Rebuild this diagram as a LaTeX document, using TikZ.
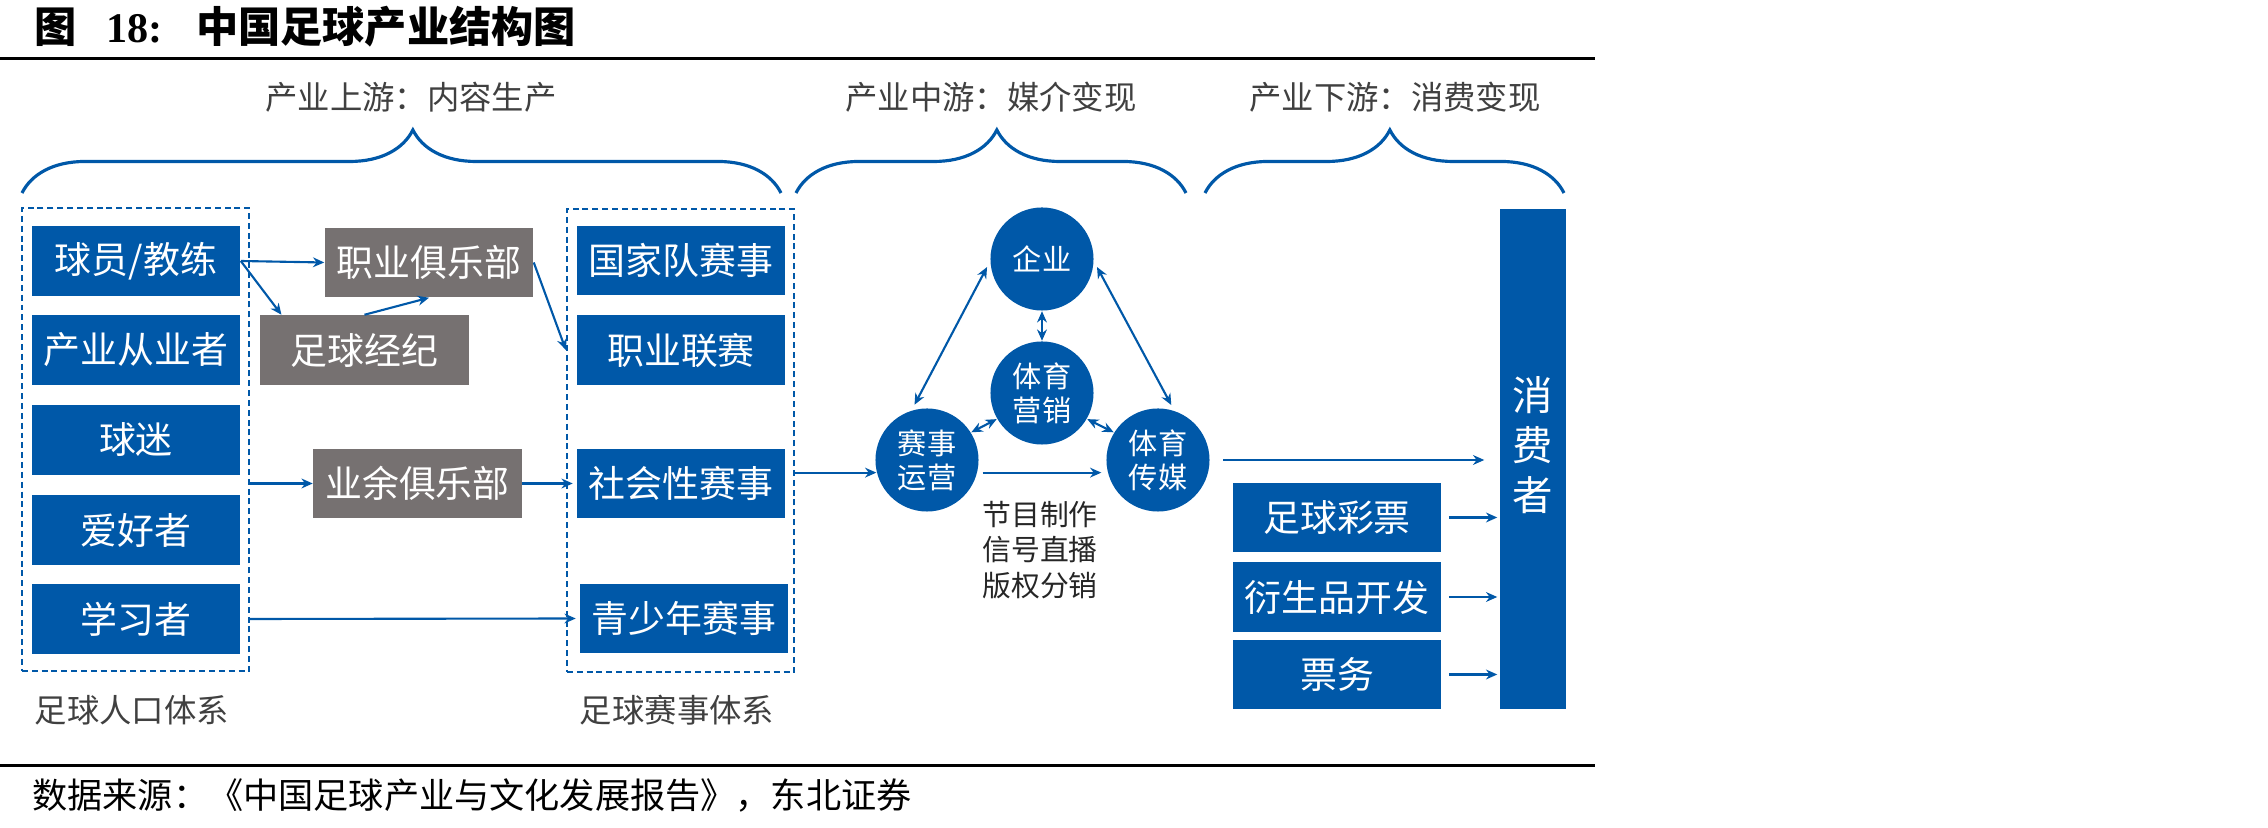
\documentclass[tikz,border=0pt]{standalone}
\usepackage{fontspec}
\setmainfont{Liberation Serif}
\newfontfamily\cjk{Noto Sans CJK SC}
\usetikzlibrary{arrows.meta, positioning, calc, decorations.pathreplacing}

\definecolor{dbblue}{RGB}{0,88,168}
\definecolor{dbgray}{RGB}{118,113,113}
\definecolor{labgray}{RGB}{64,64,64}

\begin{document}
\begin{tikzpicture}[
    x=0.01cm, y=-0.01cm,
    >={Stealth[length=3.2pt, width=2.8pt]},
    % Cajas azules (personas, eventos, consumo)
    bluebox/.style={
        fill=dbblue,
        text=white,
        minimum width=2.08cm,
        minimum height=0.69cm,
        inner sep=0pt,
        font=\cjk\fontsize{10.5}{12}\selectfont
    },
    % Cajas grises (clubes, agentes)
    graybox/.style={
        bluebox,
        fill=dbgray
    },
    % Marcos punteados
    dashbox/.style={
        draw=dbblue,
        line width=0.6pt,
        dash pattern=on 1.7pt off 1.1pt,
        minimum width=2.27cm,
        minimum height=4.63cm,
        inner sep=0pt
    },
    % Circulos del bloque medio
    roundnode/.style={
        circle,
        fill=dbblue,
        text=white,
        minimum size=1.03cm,
        inner sep=0pt,
        align=center,
        font=\cjk\fontsize{8.3}{9.6}\selectfont
    },
    % Textos de seccion
    seclabel/.style={
        text=labgray,
        font=\cjk\fontsize{9.2}{11}\selectfont
    },
    conn/.style={->, draw=dbblue, line width=0.6pt},
    biconn/.style={<->, draw=dbblue, line width=0.6pt, shorten >=0.06cm, shorten <=0.06cm},
    bracepath/.style={
        decorate,
        decoration={brace, amplitude=0.63cm, aspect=0.515},
        draw=dbblue,
        line width=0.9pt
    }
]
    \useasboundingbox (0,0) rectangle (2268,828);

    % ==========================================
    % TITULO, REGLAS Y FUENTE
    % ==========================================
    \node[anchor=west, font=\bfseries\fontsize{12}{14}\selectfont] (title) at (22,27)
        {{\cjk\bfseries 图}\hspace{0.7em}18:\hspace{0.8em}{\cjk\bfseries 中国足球产业结构图}};
    \coordinate (ruleTL) at (0,59);
    \coordinate (ruleTR) at (1595,59);
    \coordinate (ruleBL) at (0,766);
    \coordinate (ruleBR) at (1595,766);
    \draw[line width=0.85pt] (ruleTL) -- (ruleTR);
    \draw[line width=0.85pt] (ruleBL) -- (ruleBR);
    \node[anchor=west, font=\cjk\fontsize{10}{12}\selectfont] (source) at (20,795)
        {数据来源：《中国足球产业与文化发展报告》，东北证券};

    % ==========================================
    % ETIQUETAS DE CADENA Y LLAVES
    % ==========================================
    \node[seclabel] (uplabel) at (411,97) {产业上游：内容生产};
    \node[seclabel] (midlabel) at (991,97) {产业中游：媒介变现};
    \node[seclabel] (downlabel) at (1395,97) {产业下游：消费变现};

    \coordinate (upL) at (22,193);
    \coordinate (upR) at (781,193);
    \coordinate (midL) at (796,193);
    \coordinate (midR) at (1186,193);
    \coordinate (downL) at (1205,193);
    \coordinate (downR) at (1564,193);
    \draw[bracepath] (upL) -- (upR);
    \draw[bracepath] (midL) -- (midR);
    \draw[bracepath] (downL) -- (downR);

    % ==========================================
    % AGUAS ARRIBA: POBLACION Y EVENTOS
    % ==========================================
    \node[dashbox] (popbox) at (135.5,439.5) {};
    \node[dashbox] (evtbox) at (680.5,440.5) {};

    \node[bluebox] (player) at (136,261) {球员/教练};
    \node[bluebox] (staff) at (136,350) {产业从业者};
    \node[bluebox] (fans) at (136,440) {球迷};
    \node[bluebox] (hobby) at (136,530) {爱好者};
    \node[bluebox] (learner) at (136,619) {学习者};

    \node[graybox] (proclub) at (429,262.5) {职业俱乐部};
    \node[graybox] (agent) at (364.5,350) {足球经纪};
    \node[graybox] (amclub) at (417.5,483.5) {业余俱乐部};

    \node[bluebox] (national) at (681,260.5) {国家队赛事};
    \node[bluebox] (league) at (681,350) {职业联赛};
    \node[bluebox] (social) at (681,483.5) {社会性赛事};
    \node[bluebox] (youth) at (684,618.5) {青少年赛事};

    \node[seclabel] (poplabel) at (132,710) {足球人口体系};
    \node[seclabel] (evtlabel) at (677,710) {足球赛事体系};

    % Flechas del bloque izquierdo
    \draw[conn] (player.east) -- (proclub.west);
    \draw[conn] (player.east) -- (agent.157);
    \draw[conn] (agent.north) -- (proclub.south);
    \draw[conn] (proclub.east) -- (evtbox.west |- league.west);
    \draw[conn] (popbox.east |- amclub.west) -- (amclub.west);
    \draw[conn, shorten >=1pt] (amclub.east) -- (social.west);
    \draw[conn, shorten >=1pt] (popbox.east |- learner.east) -- (youth.west);

    % ==========================================
    % AGUAS MEDIAS: MEDIOS
    % ==========================================
    \node[roundnode] (corp) at (1042,259) {企业};
    \node[roundnode] (mkt) at (1042,393) {体育\\营销};
    \node[roundnode] (ops) at (927,460) {赛事\\运营};
    \node[roundnode] (media) at (1158,460) {体育\\传媒};
    \node[align=center, text=black!85, font=\cjk\fontsize{8.2}{10.2}\selectfont] (mediatext) at (1040,550)
        {节目制作\\信号直播\\版权分销};

    \draw[conn] (evtbox.east |- ops.194) -- (ops.194);
    \draw[conn, shorten <=0.05cm, shorten >=0.06cm] (ops.-14) -- (media.194);
    \draw[biconn] (corp.183) -- (ops.107);
    \draw[biconn] (corp.357) -- (media.72);
    \draw[biconn, shorten >=0pt, shorten <=0pt] (corp.south) -- (mkt.north);
    \draw[biconn, shorten >=0pt, shorten <=0pt] (mkt.210) -- (ops.32);
    \draw[biconn, shorten >=0pt, shorten <=0pt] (mkt.330) -- (media.148);

    % ==========================================
    % AGUAS ABAJO: CONSUMO
    % ==========================================
    \node[bluebox, minimum width=0.66cm, minimum height=5.0cm] (consumer) at (1533,459) {};
    \node[align=center, text=white, font=\cjk\fontsize{11.5}{14.2}\selectfont] (consumertext) at (1533,445) {消\\费\\者};

    \node[bluebox] (lottery) at (1337,517.5) {足球彩票};
    \node[bluebox] (merch) at (1337,597) {衍生品开发};
    \node[bluebox] (ticket) at (1337,674.5) {票务};

    \draw[conn, shorten <=0.13cm, shorten >=0.15cm] (media.east) -- (consumer.west |- media.east);
    \draw[conn, shorten <=0.07cm, shorten >=0.02cm] (lottery.east) -- (consumer.west |- lottery.east);
    \draw[conn, shorten <=0.07cm, shorten >=0.02cm] (merch.east) -- (consumer.west |- merch.east);
    \draw[conn, shorten <=0.07cm, shorten >=0.02cm] (ticket.east) -- (consumer.west |- ticket.east);

\end{tikzpicture}
\end{document}
